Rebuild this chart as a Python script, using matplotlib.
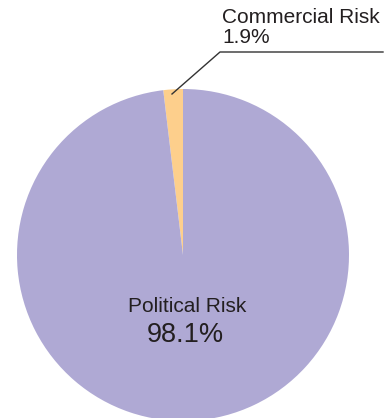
import matplotlib
matplotlib.use("Agg")
import matplotlib.pyplot as plt

labels = ["Commercial Risk", "Political Risk"]
values = [1.9, 98.1]
colors = ["#FDCF8C", "#AFA9D4"]

W, H = 389, 418
fig = plt.figure(figsize=(W / 100, H / 100), dpi=100)
ax = fig.add_axes([0, 0, 1, 1])
ax.set_xlim(0, W)
ax.set_ylim(0, H)
ax.set_aspect("equal")
ax.axis("off")

cx, cy, r = 183, H - 255, 166
ax.pie(values, colors=colors, startangle=90, counterclock=True,
       center=(cx, cy), radius=r, frame=True,
       wedgeprops=dict(linewidth=0))
ax.set_xlim(0, W)
ax.set_ylim(0, H)
ax.axis("off")

font = "Liberation Sans"
tc = "#231f20"
ax.text(222, H - 23, labels[0], fontsize=15, family=font, color=tc, ha="left", va="baseline")
ax.text(222, H - 43, f"{values[0]}%", fontsize=15, family=font, color=tc, ha="left", va="baseline")
ax.plot([172, 220, 383], [H - 94, H - 52, H - 52], color="#333333", lw=1.0)

ax.text(187, H - 312, labels[1], fontsize=15, family=font, color=tc, ha="center", va="baseline")
ax.text(185, H - 342, f"{values[1]}%", fontsize=19.5, family=font, color=tc, ha="center", va="baseline")

fig.savefig("out.png", dpi=100)
